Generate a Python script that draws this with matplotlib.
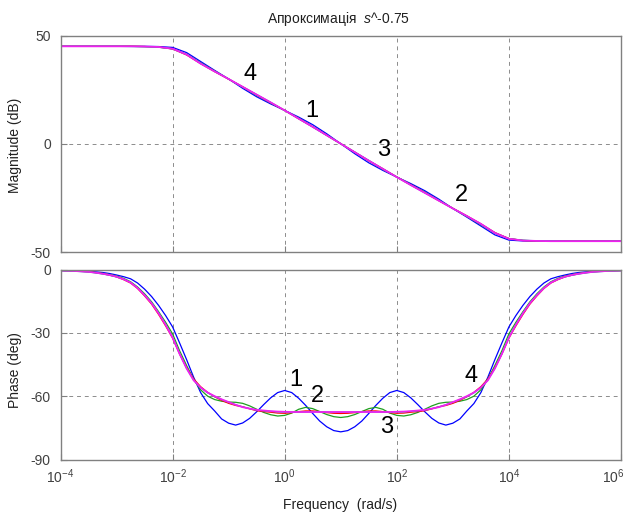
import numpy as np
import matplotlib
matplotlib.use('Agg')
import matplotlib.pyplot as plt
from matplotlib.ticker import NullLocator, FixedLocator
from matplotlib.transforms import ScaledTranslation

plt.rcParams['font.family'] = ['Liberation Sans', 'DejaVu Sans']
plt.rcParams['mathtext.fontset'] = 'custom'
plt.rcParams['mathtext.rm'] = 'Liberation Sans'
plt.rcParams['mathtext.it'] = 'Liberation Sans:italic'
plt.rcParams['axes.unicode_minus'] = False

# frequency grids: quarter decade for magnitude, eighth decade for phase
w_mag = np.logspace(-4, 6, 41)
w_ph = np.logspace(-4, 6, 81)

# magnitude (dB)
mag_blue = [45.0, 45.0, 45.0, 45.0, 45.0, 45.0, 45.0, 44.9, 44.5, 42.1, 38.0, 33.9, 29.9, 25.6, 21.7, 18.4, 15.4, 12.3, 8.8, 4.6, 0.0,
            -4.6, -8.8, -12.3, -15.4, -18.4, -21.7, -25.6, -29.9, -33.9, -38.0, -42.1, -44.5, -44.9, -45.0, -45.0, -45.0, -45.0, -45.0, -45.0, -45.0]
mag_green = [45.0, 45.0, 45.0, 45.0, 45.0, 45.0, 44.9, 44.6, 43.8, 41.3, 37.3, 33.6, 29.9, 26.2, 22.4, 18.9, 15.3, 11.8, 7.9, 3.9, 0.0,
             -3.9, -7.9, -11.8, -15.3, -18.9, -22.4, -26.2, -29.9, -33.6, -37.3, -41.3, -43.8, -44.6, -44.9, -45.0, -45.0, -45.0, -45.0, -45.0, -45.0]
mag_red = [45.0, 45.0, 45.0, 45.0, 45.0, 45.0, 44.9, 44.7, 43.8, 41.0, 37.0, 33.3, 29.8, 26.3, 22.6, 19.0, 15.4, 11.5, 7.8, 3.9, 0.0,
           -3.9, -7.8, -11.5, -15.4, -19.0, -22.6, -26.3, -29.8, -33.3, -37.0, -41.0, -43.8, -44.7, -44.9, -45.0, -45.0, -45.0, -45.0, -45.0, -45.0]
mag_cyan = [45.0, 45.0, 45.0, 45.0, 45.0, 44.9, 44.8, 44.6, 43.9, 41.2, 37.1, 33.4, 29.9, 26.2, 22.7, 19.1, 15.4, 11.6, 7.7, 3.9, 0.0,
            -3.9, -7.7, -11.6, -15.4, -19.1, -22.7, -26.2, -29.9, -33.4, -37.1, -41.2, -43.9, -44.6, -44.8, -44.9, -45.0, -45.0, -45.0, -45.0, -45.0]
mag_magenta = [45.0, 45.0, 45.0, 45.0, 45.0, 45.0, 44.9, 44.7, 43.9, 41.2, 37.0, 33.4, 29.9, 26.3, 22.7, 19.1, 15.4, 11.6, 7.8, 3.9, 0.0,
               -3.9, -7.8, -11.6, -15.4, -19.1, -22.7, -26.3, -29.9, -33.4, -37.0, -41.2, -43.9, -44.7, -44.9, -45.0, -45.0, -45.0, -45.0, -45.0, -45.0]

# phase (deg)
ph_blue = [-0.4, -0.45, -0.5, -0.65, -0.8, -1.1, -1.4, -1.9, -2.6, -3.4, -4.4, -6.4, -9.3, -12.8, -17.0, -21.8, -27.2, -34.8, -42.7, -51.0,
           -58.3, -63.5, -67.0, -70.8, -72.8, -73.7, -72.7, -70.5, -67.4, -64.0, -60.8, -58.3, -57.3, -58.3, -61.0, -64.4, -68.2, -71.8, -74.5, -76.3,
           -76.9,
           -76.3, -74.5, -71.8, -68.2, -64.4, -61.0, -58.3, -57.3, -58.3, -60.8, -64.0, -67.4, -70.5, -72.7, -73.7, -72.8, -70.8, -67.0, -63.5, -58.3,
           -51.0, -42.7, -34.8, -27.2, -21.8, -17.0, -12.8, -9.3, -6.4, -4.4, -3.4, -2.6, -1.9, -1.4, -1.1, -0.8, -0.65, -0.5, -0.45, -0.4]
ph_green = [-0.5, -0.6, -0.7, -0.85, -1.0, -1.4, -1.8, -2.4, -3.1, -4.2, -5.8, -8.3, -11.5, -15.3, -20.0, -25.0, -30.5, -38.5, -45.5, -52.0,
            -57.0, -60.0, -61.6, -62.4, -62.8, -62.9, -63.4, -64.6, -66.2, -67.7, -68.8, -69.4, -69.1, -68.0, -66.2, -65.3, -65.9, -67.3, -68.7, -69.7,
            -70.1,
            -69.7, -68.7, -67.3, -65.9, -65.3, -66.2, -68.0, -69.1, -69.4, -68.8, -67.7, -66.2, -64.6, -63.4, -62.9, -62.8, -62.4, -61.6, -60.0, -57.0,
            -52.0, -45.5, -38.5, -30.5, -25.0, -20.0, -15.3, -11.5, -8.3, -5.8, -4.2, -3.1, -2.4, -1.8, -1.4, -1.0, -0.85, -0.7, -0.6, -0.5]
ph_red = [-0.5, -0.6, -0.7, -0.9, -1.1, -1.5, -2.0, -2.7, -3.5, -4.8, -6.4, -9.0, -12.5, -16.4, -21.3, -26.7, -32.5, -40.0, -46.5, -51.8,
          -55.5, -58.2, -60.3, -62.0, -63.4, -64.4, -65.0, -66.0, -66.9, -67.3, -67.6, -68.0, -68.1, -67.8, -67.3, -67.0, -67.0, -67.3, -67.8, -68.1,
          -68.2,
          -68.1, -67.8, -67.3, -67.0, -67.0, -67.3, -67.8, -68.1, -68.0, -67.6, -67.3, -66.9, -66.0, -65.0, -64.4, -63.4, -62.0, -60.3, -58.2, -55.5,
          -51.8, -46.5, -40.0, -32.5, -26.7, -21.3, -16.4, -12.5, -9.0, -6.4, -4.8, -3.5, -2.7, -2.0, -1.5, -1.1, -0.9, -0.7, -0.6, -0.5]
ph_cyan = [-0.6, -0.7, -0.8, -1.0, -1.2, -1.6, -2.1, -2.7, -3.5, -4.6, -6.1, -8.7, -12.0, -15.8, -20.5, -26.0, -32.0, -39.8, -46.8, -52.3,
           -56.0, -58.4, -60.2, -61.6, -62.9, -64.1, -65.1, -65.9, -66.6, -66.9, -67.2, -67.4, -67.5, -67.6, -67.6, -67.5, -67.4, -67.4, -67.5, -67.6,
           -67.6,
           -67.6, -67.5, -67.4, -67.4, -67.5, -67.6, -67.6, -67.5, -67.4, -67.2, -66.9, -66.6, -65.9, -65.1, -64.1, -62.9, -61.6, -60.2, -58.4, -56.0,
           -52.3, -46.8, -39.8, -32.0, -26.0, -20.5, -15.8, -12.0, -8.7, -6.1, -4.6, -3.5, -2.7, -2.1, -1.6, -1.2, -1.0, -0.8, -0.7, -0.6]
ph_magenta = [-0.5, -0.6, -0.7, -0.9, -1.1, -1.5, -2.0, -2.6, -3.4, -4.6, -6.2, -8.8, -12.2, -16.0, -20.8, -26.2, -32.3, -40.0, -46.9, -52.5,
              -55.9, -58.3, -60.0, -61.5, -62.8, -64.1, -65.2, -65.9, -66.5, -66.8, -67.1, -67.3, -67.4, -67.5, -67.5, -67.5, -67.5, -67.5, -67.5, -67.5,
              -67.5,
              -67.5, -67.5, -67.5, -67.5, -67.5, -67.5, -67.5, -67.4, -67.3, -67.1, -66.8, -66.5, -65.9, -65.2, -64.1, -62.8, -61.5, -60.0, -58.3, -55.9,
              -52.5, -46.9, -40.0, -32.3, -26.2, -20.8, -16.0, -12.2, -8.8, -6.2, -4.6, -3.4, -2.6, -2.0, -1.5, -1.1, -0.9, -0.7, -0.6, -0.5]

# curve number labels (text, freq, value)
mag_labels = [('4', 10**-0.62, 32.4), ('1', 10**0.49, 15.3), ('3', 10**1.76, -3.0), ('2', 10**3.16, -23.8)]
ph_labels = [('1', 10**0.20, -52.5), ('2', 10**0.58, -59.9), ('3', 10**1.81, -74.8), ('4', 10**3.32, -50.4)]

colors = ['#0000ff', '#1fa01f', '#ff0000', '#00c0c0', '#f020f0']
mags = [mag_blue, mag_green, mag_red, mag_cyan, mag_magenta]
phs = [ph_blue, ph_green, ph_red, ph_cyan, ph_magenta]

W, H = 630, 517
fig = plt.figure(figsize=(W / 100, H / 100), dpi=100)
ax1 = fig.add_axes([60.5 / W, 1 - 252 / H, 560.5 / W, 216.5 / H])
ax2 = fig.add_axes([60.5 / W, 1 - 459.5 / H, 560.5 / W, 190 / H])

frame = '#808080'
for ax, w, ys, ylim, yt in [(ax1, w_mag, mags, (-50, 50), [-50, 0, 50]),
                            (ax2, w_ph, phs, (-90, 0), [-90, -60, -30, 0])]:
    for y, c in zip(ys, colors):
        lw = 1.3 if c == colors[-1] else 0.9
        ax.semilogx(w, y, color=c, lw=lw)
    ax.set_xlim(1e-4, 1e6)
    ax.set_ylim(*ylim)
    ax.xaxis.set_major_locator(FixedLocator([1e-4, 1e-2, 1, 1e2, 1e4, 1e6]))
    ax.xaxis.set_minor_locator(NullLocator())
    ax.set_yticks(yt)
    ax.grid(True, color='#8c8c8c', linestyle=(0, (4, 4)), lw=0.7)
    for s in ax.spines.values():
        s.set_color(frame)
        s.set_linewidth(1.0)
    ax.tick_params(direction='in', length=4, color=frame, labelsize=10, labelcolor='#404040', pad=7)
    ax.tick_params(axis='x', pad=6)

ax1.tick_params(labelbottom=False)

# nudge the 10^6 label left so it stays inside the figure
last = ax2.xaxis.get_major_ticks()[-1].label1
last.set_transform(last.get_transform() + ScaledTranslation(-0.08, 0, fig.dpi_scale_trans))

for t, x, y in mag_labels:
    ax1.text(x, y, t, fontsize=17, ha='center', va='center', color='black')
for t, x, y in ph_labels:
    ax2.text(x, y, t, fontsize=17, ha='center', va='center', color='black')

fig.text(338 / W, 1 - 19 / H, r'Апроксимація  $\mathit{s}$^-0.75', ha='center', va='center', fontsize=10, color='#202020')
fig.text(15 / W, 1 - 145 / H, 'Magnitude (dB)', rotation=90, ha='center', va='center', fontsize=10, color='#202020')
fig.text(15 / W, 1 - 370 / H, 'Phase (deg)', rotation=90, ha='center', va='center', fontsize=10, color='#202020')
fig.text(340.5 / W, 1 - 505 / H, 'Frequency  (rad/s)', ha='center', va='center', fontsize=10, color='#202020')

fig.savefig('out.png', dpi=100)
